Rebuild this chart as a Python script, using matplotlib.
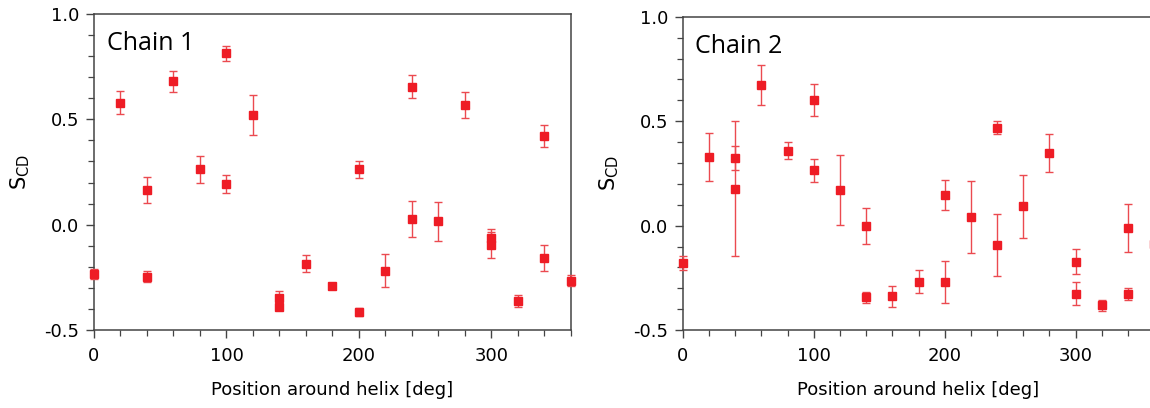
import matplotlib.pyplot as plt
import numpy as np
from matplotlib.ticker import MultipleLocator

# Chain 1 order parameters
chain1_pos = [0, 20, 40, 40, 60, 80, 100, 100, 120, 140, 140, 160, 180,
              200, 200, 220, 240, 240, 260, 280, 300, 300, 320, 340, 340, 360]
chain1_scd = [-0.234, 0.579, 0.165, -0.247, 0.68, 0.263, 0.813, 0.193, 0.521,
              -0.346, -0.392, -0.186, -0.291, 0.263, -0.413, -0.218, 0.655,
              0.028, 0.016, 0.568, -0.062, -0.096, -0.362, 0.42, -0.158, -0.267]
chain1_err = [0.026, 0.055, 0.06, 0.026, 0.048, 0.065, 0.036, 0.042, 0.093,
              0.032, 0.0, 0.04, 0.012, 0.04, 0.018, 0.077, 0.056, 0.084, 0.093,
              0.062, 0.04, 0.06, 0.028, 0.051, 0.06, 0.026]

# Chain 2 order parameters
chain2_pos = [0, 20, 40, 40, 60, 80, 100, 100, 120, 140, 140, 160, 180,
              200, 200, 220, 240, 240, 260, 280, 300, 300, 320, 340, 340, 360]
chain2_scd = [-0.18, 0.33, 0.324, 0.177, 0.672, 0.359, 0.601, 0.266, 0.17,
              -0.002, -0.343, -0.339, -0.268, 0.146, -0.27, 0.041, 0.469,
              -0.093, 0.092, 0.349, -0.173, -0.326, -0.382, -0.013, -0.327, -0.09]
chain2_err = [0.033, 0.115, 0.056, 0.324, 0.096, 0.04, 0.078, 0.055, 0.167,
              0.086, 0.026, 0.052, 0.056, 0.071, 0.102, 0.172, 0.03, 0.149,
              0.151, 0.092, 0.06, 0.056, 0.028, 0.115, 0.03, 0.03]

panels = [
    ("Chain 1", chain1_pos, chain1_scd, chain1_err),
    ("Chain 2", chain2_pos, chain2_scd, chain2_err),
]

fig = plt.figure(figsize=(11.5, 4.08), dpi=100)
# second axes runs past the right edge, as in the original figure
positions = [[0.0817, 0.191, 0.4148, 0.7747],
             [0.5937, 0.191, 0.4100, 0.7680]]

spine_col = '#444444'
red = '#ee1c25'
bar_red = '#eb4a50'

for (name, pos, scd, err), rect in zip(panels, positions):
    ax = fig.add_axes(rect)
    ax.errorbar(pos, scd, yerr=err, fmt='s', color=red, ms=6, mec=red,
                ecolor=bar_red, elinewidth=1.0, capsize=2.6, capthick=1.0,
                clip_on=False, zorder=5)
    ax.set_xlim(0, 360)
    ax.set_ylim(-0.5, 1.0)
    ax.xaxis.set_major_locator(MultipleLocator(100))
    ax.xaxis.set_minor_locator(MultipleLocator(20))
    ax.yaxis.set_minor_locator(MultipleLocator(0.1))
    ax.set_yticks([-0.5, 0.0, 0.5, 1.0])
    ax.set_yticklabels(['-0.5', '0.0', '0.5', '1.0'])
    ax.tick_params(which='major', direction='out', length=5.5, width=1.0,
                   color=spine_col, labelsize=13, pad=5)
    ax.tick_params(axis='x', which='major', pad=7)
    ax.tick_params(which='minor', direction='out', length=4, width=0.9,
                   color=spine_col)
    for sp in ax.spines.values():
        sp.set_color(spine_col)
        sp.set_linewidth(1.1)
    ax.set_xlabel('Position around helix [deg]', fontsize=13, labelpad=11)
    ax.set_ylabel(r'$\mathregular{S_{CD}}$', fontsize=15, labelpad=9)
    ax.text(0.027, 0.885, name, transform=ax.transAxes, fontsize=18,
            family='Open Sans', va='baseline', ha='left')

fig.savefig('out.png', dpi=100)
